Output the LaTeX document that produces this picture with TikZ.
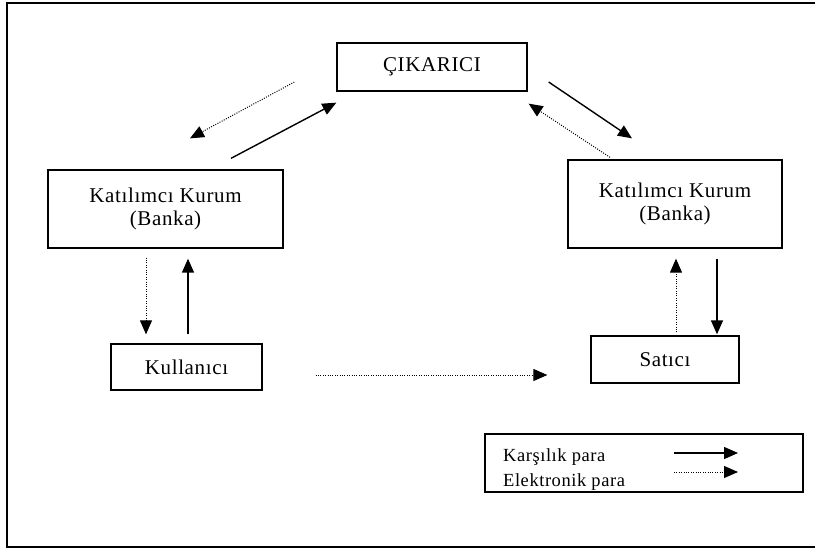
\documentclass[tikz,border=0pt]{standalone}
\usepackage{fontspec}
\setmainfont{Liberation Serif}[LetterSpace=3]
\usepackage{tikz}
\usetikzlibrary{arrows.meta}

\begin{document}
\begin{tikzpicture} [x=1pt,y=-1pt,
  kutu/.style={draw,line width=1.3pt,rectangle,align=center,font=\fontsize{21}{23}\selectfont},
  karsilik/.style={line width=1.4pt,-{Triangle[length=14pt,width=12pt]}},
  elektronik/.style={line width=1pt,dash pattern=on 1pt off 1.4pt,-{Triangle[length=14pt,width=12pt]}},
  yazi/.style={font=\fontsize{18.5}{20}\selectfont,anchor=base west,inner sep=0pt}]
\useasboundingbox (0,0) rectangle (815,559);
\draw[line width=2pt] (815,3) -- (7,3) -- (7,547) -- (815,547);

\node[kutu,minimum width=190pt,minimum height=48pt] (cik) at (432,67) {ÇIKARICI};
\node[kutu,minimum width=235pt,minimum height=78pt] (bankL) at (165.5,209) {Katılımcı Kurum\\(Banka)};
\node[kutu,minimum width=214pt,minimum height=88pt] (bankR) at (675,204) {Katılımcı Kurum\\(Banka)};
\node[kutu,minimum width=151pt,minimum height=46pt] (kul) at (186.5,367) {Kullanıcı};
\node[kutu,minimum width=148pt,minimum height=47pt] (sat) at (665,359.5) {Satıcı};

\draw[elektronik] ([xshift=-42pt,yshift=-15pt]cik.west) -- ([xshift=24.5pt,yshift=31pt]bankL.north);
\draw[karsilik] ([xshift=65.5pt,yshift=11pt]bankL.north) -- ([yshift=-11pt]cik.south west);
\draw[karsilik] ([xshift=21pt,yshift=-15pt]cik.east) -- ([xshift=-43pt,yshift=21pt]bankR.north);
\draw[elektronik] ([xshift=-65pt,yshift=2pt]bankR.north) -- ([xshift=1pt,yshift=-12pt]cik.south east);

\draw[elektronik] ([xshift=-19.5pt,yshift=-9pt]bankL.south) -- ([xshift=-40.5pt,yshift=9pt]kul.north);
\draw[karsilik] ([xshift=1.5pt,yshift=9pt]kul.north) -- ([xshift=22.5pt,yshift=-10pt]bankL.south);
\draw[elektronik] ([xshift=11pt,yshift=3pt]sat.north) -- ([xshift=1pt,yshift=-10pt]bankR.south);
\draw[karsilik] ([xshift=42pt,yshift=-10pt]bankR.south) -- ([xshift=52pt,yshift=1pt]sat.north);

\draw[elektronik] ([xshift=53pt,yshift=-8pt]kul.east) -- ([xshift=-43pt,yshift=-15.5pt]sat.west);

% legend
\node[draw,line width=1.3pt,minimum width=318pt,minimum height=58pt,inner sep=0pt] (lg) at (644,463) {};
\node[yazi] (lgk) at (503,461) {Karşılık para};
\node[yazi] (lge) at (503,486) {Elektronik para};
\coordinate (k1) at (674,453);
\coordinate (k2) at (738,453);
\coordinate (e1) at (674,472);
\coordinate (e2) at (738,472);
\draw[karsilik] (k1) -- (k2);
\draw[elektronik] (e1) -- (e2);

\end{tikzpicture}
\end{document}
